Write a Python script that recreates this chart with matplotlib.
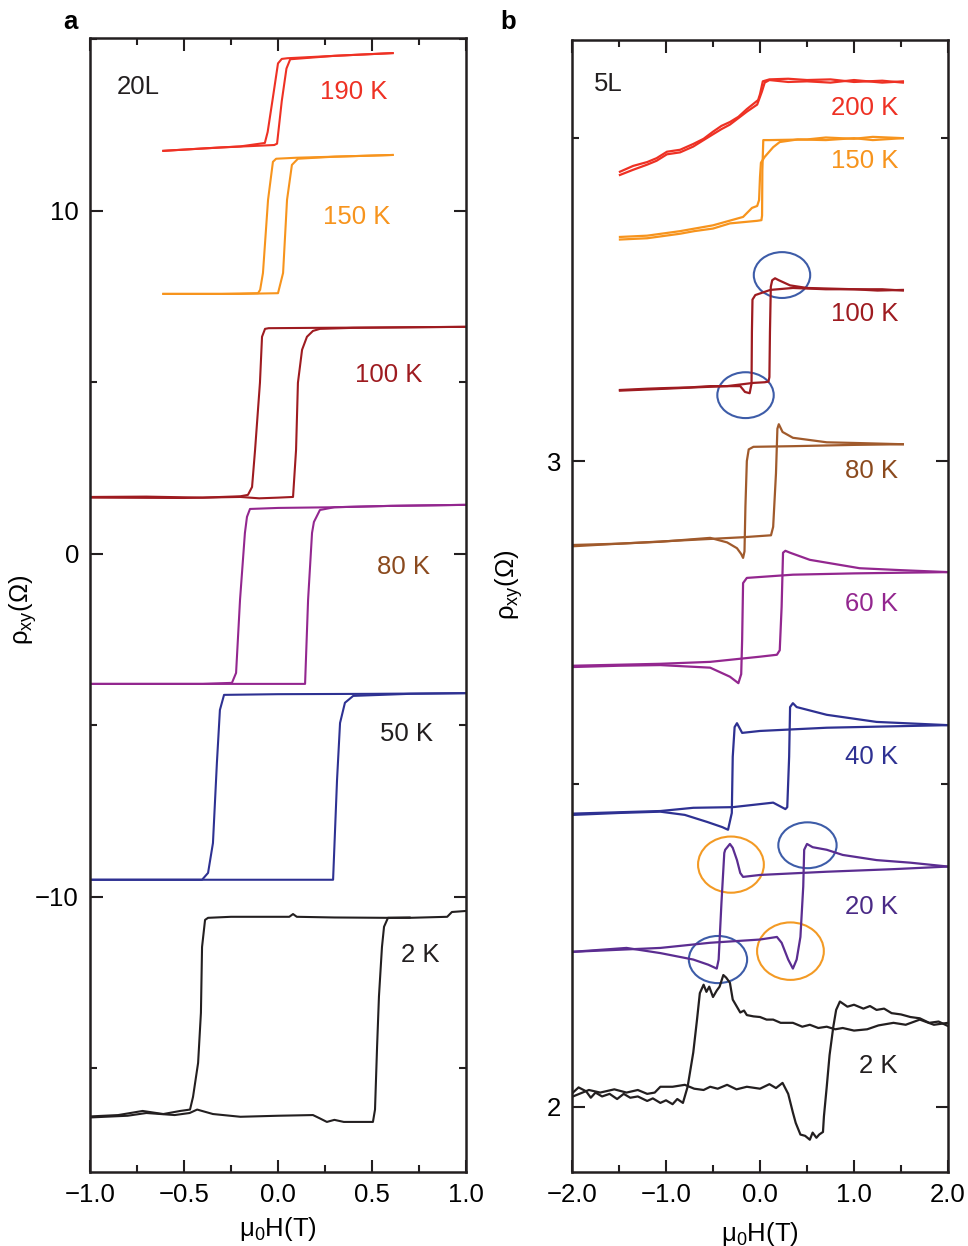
import matplotlib
matplotlib.use('Agg')
import matplotlib.pyplot as plt
from matplotlib.patches import Ellipse
from matplotlib.ticker import MultipleLocator, FuncFormatter

plt.rcParams['font.family'] = ['Liberation Sans', 'DejaVu Sans']
plt.rcParams['font.size'] = 18.5
plt.rcParams['axes.unicode_minus'] = True

# ---- panel a (20L), each loop as two sweep branches of (H, rho) points ----
a190_dn = [(0.61, 14.6), (0.3, 14.52), (0.05, 14.45), (0.02, 14.43), (0.0, 14.3), (-0.03, 13.2),
           (-0.055, 12.3), (-0.07, 11.98), (-0.2, 11.88), (-0.4, 11.82), (-0.61, 11.75)]
a190_up = [(-0.61, 11.75), (-0.3, 11.85), (-0.02, 11.92), (-0.005, 11.96), (0.02, 13.2),
           (0.045, 14.15), (0.065, 14.42), (0.3, 14.52), (0.61, 14.6)]

a150_dn = [(0.61, 11.63), (0.3, 11.58), (0.1, 11.55), (-0.01, 11.52), (-0.027, 11.43), (-0.053, 10.32),
           (-0.08, 8.19), (-0.095, 7.7), (-0.106, 7.6), (-0.3, 7.58), (-0.61, 7.58)]
a150_up = [(-0.61, 7.58), (-0.2, 7.58), (0.0, 7.6), (0.027, 8.19), (0.048, 10.32), (0.074, 11.34),
           (0.106, 11.52), (0.3, 11.58), (0.61, 11.63)]

a100_dn = [(1.0, 6.62), (0.5, 6.6), (0.2, 6.59), (-0.05, 6.58), (-0.069, 6.56), (-0.085, 6.33),
           (-0.096, 4.99), (-0.122, 3.03), (-0.138, 1.95), (-0.16, 1.72), (-0.2, 1.68), (-0.4, 1.64),
           (-0.7, 1.67), (-1.0, 1.66)]
a100_up = [(-1.0, 1.64), (-0.5, 1.63), (-0.2, 1.66), (-0.1, 1.62), (0.0, 1.64), (0.08, 1.66),
           (0.096, 3.03), (0.106, 4.99), (0.128, 5.95), (0.154, 6.33), (0.186, 6.5), (0.223, 6.56),
           (0.4, 6.59), (1.0, 6.62)]

a80_dn = [(1.0, 1.43), (0.6, 1.4), (0.3, 1.36), (0.0, 1.34), (-0.149, 1.31), (-0.165, 1.08),
          (-0.176, 0.61), (-0.202, -1.34), (-0.223, -3.47), (-0.245, -3.76), (-0.4, -3.79), (-1.0, -3.79)]
a80_up = [(-1.0, -3.79), (0.144, -3.79), (0.16, -1.34), (0.181, 0.61), (0.191, 0.93), (0.223, 1.28),
          (0.3, 1.36), (0.6, 1.4), (1.0, 1.43)]

a50_dn = [(1.0, -4.06), (0.5, -4.08), (0.0, -4.09), (-0.287, -4.11), (-0.309, -4.55), (-0.325, -6.09),
          (-0.346, -8.43), (-0.372, -9.3), (-0.404, -9.5), (-1.0, -9.5)]
a50_up = [(-1.0, -9.5), (0.293, -9.5), (0.314, -6.59), (0.33, -4.93), (0.356, -4.34), (0.4, -4.14),
          (0.7, -4.08), (1.0, -4.06)]

a2_dn = [(1.0, -10.41), (0.925, -10.44), (0.9, -10.58), (0.7, -10.61), (0.58, -10.61), (0.3, -10.6),
         (0.1, -10.58), (0.08, -10.5), (0.06, -10.58), (-0.25, -10.58), (-0.372, -10.61), (-0.388, -10.67),
         (-0.404, -11.46), (-0.41, -13.38), (-0.425, -14.84), (-0.452, -15.83), (-0.468, -16.2),
         (-0.52, -16.24), (-0.61, -16.33), (-0.72, -16.24), (-0.85, -16.36), (-1.0, -16.4)]
a2_up = [(-1.0, -16.43), (-0.8, -16.38), (-0.7, -16.3), (-0.55, -16.36), (-0.47, -16.3), (-0.43, -16.2),
         (-0.346, -16.33), (-0.2, -16.41), (0.0, -16.38), (0.186, -16.36), (0.22, -16.45), (0.26, -16.56),
         (0.3, -16.5), (0.35, -16.56), (0.49, -16.56), (0.505, -16.56), (0.516, -16.2), (0.527, -14.37),
         (0.537, -12.9), (0.553, -11.46), (0.564, -10.87), (0.585, -10.61), (0.7, -10.6)]

# ---- panel b (5L) ----
b200_dn = [(1.52, 3.586), (1.3, 3.589), (1.0, 3.587), (0.75, 3.591), (0.5, 3.59), (0.3, 3.592),
           (0.1, 3.591), (0.03, 3.588), (0.0, 3.568), (-0.02, 3.559), (-0.14, 3.545), (-0.23, 3.533),
           (-0.32, 3.525), (-0.41, 3.519), (-0.5, 3.51), (-0.6, 3.499), (-0.71, 3.491), (-0.85, 3.482),
           (-0.99, 3.479), (-1.1, 3.469), (-1.2, 3.463), (-1.35, 3.457), (-1.49, 3.448)]
b200_up = [(-1.49, 3.443), (-1.35, 3.451), (-1.2, 3.459), (-1.1, 3.465), (-0.99, 3.475), (-0.85, 3.478),
           (-0.71, 3.487), (-0.6, 3.497), (-0.5, 3.506), (-0.41, 3.514), (-0.32, 3.521), (-0.23, 3.531),
           (-0.14, 3.541), (-0.03, 3.552), (0.02, 3.572), (0.05, 3.586), (0.1, 3.59), (0.3, 3.587),
           (0.5, 3.588), (0.75, 3.586), (1.0, 3.59), (1.3, 3.586), (1.52, 3.588)]

b150_dn = [(1.52, 3.5), (1.2, 3.502), (1.0, 3.499), (0.7, 3.501), (0.5, 3.498), (0.1, 3.497),
           (0.035, 3.497), (0.025, 3.45), (0.022, 3.38), (0.015, 3.373), (-0.03, 3.372), (-0.32, 3.368),
           (-0.5, 3.36), (-0.7, 3.356), (-0.85, 3.352), (-1.2, 3.345), (-1.49, 3.343)]
b150_up = [(-1.49, 3.347), (-1.2, 3.349), (-0.85, 3.356), (-0.5, 3.365), (-0.18, 3.378), (-0.085, 3.392),
           (-0.03, 3.395), (-0.01, 3.404), (0.0, 3.44), (0.01, 3.462), (0.05, 3.471), (0.14, 3.486),
           (0.21, 3.494), (0.4, 3.498), (0.7, 3.497), (1.0, 3.5), (1.2, 3.497), (1.52, 3.5)]

b100_up = [(-1.49, 3.110), (-1.2, 3.112), (-1.0, 3.113), (-0.75, 3.114), (-0.53, 3.116), (-0.21, 3.116),
           (-0.16, 3.107), (-0.11, 3.105), (-0.09, 3.12), (-0.086, 3.2), (-0.08, 3.25), (-0.05, 3.257),
           (0.11, 3.265), (0.35, 3.268), (0.7, 3.266), (1.0, 3.266), (1.25, 3.264), (1.52, 3.265)]
b100_dn = [(1.52, 3.264), (1.3, 3.266), (1.0, 3.266), (0.75, 3.267), (0.5, 3.268), (0.32, 3.272),
           (0.2, 3.28), (0.16, 3.283), (0.13, 3.28), (0.115, 3.27), (0.106, 3.2), (0.1, 3.13), (0.09, 3.123),
           (0.05, 3.122), (-0.07, 3.121), (-0.35, 3.116), (-0.7, 3.114), (-1.0, 3.112), (-1.49, 3.109)]

b80_up = [(-1.99, 2.870), (-1.5, 2.872), (-1.06, 2.875), (-0.53, 2.881), (-0.35, 2.874), (-0.245, 2.865),
          (-0.2, 2.856), (-0.18, 2.85), (-0.165, 2.86), (-0.155, 2.93), (-0.14, 3.0), (-0.12, 3.018),
          (-0.07, 3.022), (0.35, 3.023), (1.0, 3.025), (1.52, 3.026)]
b80_dn = [(1.52, 3.026), (1.0, 3.028), (0.71, 3.029), (0.35, 3.036), (0.24, 3.045), (0.2, 3.057),
          (0.185, 3.05), (0.17, 2.981), (0.14, 2.898), (0.117, 2.885), (-0.18, 2.882), (-0.71, 2.878),
          (-1.5, 2.872), (-1.99, 2.868)]

b60_up = [(-1.99, 2.681), (-1.5, 2.683), (-1.06, 2.684), (-0.53, 2.680), (-0.32, 2.666), (-0.23, 2.656),
          (-0.2, 2.67), (-0.19, 2.723), (-0.18, 2.811), (-0.14, 2.819), (0.35, 2.824), (1.0, 2.826),
          (2.0, 2.828)]
b60_dn = [(2.0, 2.828), (1.5, 2.831), (1.06, 2.834), (0.53, 2.847), (0.32, 2.858), (0.27, 2.861),
          (0.245, 2.858), (0.23, 2.774), (0.21, 2.707), (0.18, 2.70), (0.0, 2.697), (-0.53, 2.689),
          (-1.06, 2.686), (-1.99, 2.683)]

b40_up = [(-1.99, 2.452), (-1.5, 2.455), (-1.06, 2.457), (-0.8, 2.452), (-0.56, 2.441), (-0.4, 2.433),
          (-0.34, 2.429), (-0.3, 2.455), (-0.29, 2.542), (-0.27, 2.588), (-0.245, 2.594), (-0.19, 2.579),
          (0.0, 2.582), (0.71, 2.587), (2.0, 2.591)]
b40_dn = [(2.0, 2.591), (1.24, 2.596), (0.71, 2.607), (0.39, 2.619), (0.35, 2.625), (0.32, 2.619),
          (0.31, 2.542), (0.29, 2.464), (0.27, 2.461), (0.14, 2.471), (-0.29, 2.464), (-0.71, 2.463),
          (-1.06, 2.458), (-1.99, 2.454)]

b20_up = [(-1.99, 2.240), (-1.42, 2.246), (-1.06, 2.238), (-0.71, 2.228), (-0.55, 2.22), (-0.46, 2.214),
          (-0.44, 2.228), (-0.41, 2.316), (-0.38, 2.393), (-0.37, 2.398), (-0.32, 2.407), (-0.29, 2.401),
          (-0.245, 2.382), (-0.21, 2.362), (-0.18, 2.356), (0.0, 2.359), (0.71, 2.364), (1.42, 2.368),
          (2.0, 2.372)]
b20_dn = [(2.0, 2.372), (1.6, 2.378), (1.24, 2.382), (0.88, 2.390), (0.71, 2.398), (0.56, 2.402),
          (0.5, 2.407), (0.47, 2.398), (0.46, 2.341), (0.43, 2.263), (0.39, 2.228), (0.35, 2.214),
          (0.3, 2.228), (0.23, 2.254), (0.18, 2.263), (0.0, 2.259), (-0.53, 2.254), (-1.06, 2.246),
          (-1.99, 2.240)]

b2_up = [(-1.99, 2.022), (-1.93, 2.03), (-1.85, 2.024), (-1.8, 2.014), (-1.75, 2.022), (-1.68, 2.016),
         (-1.6, 2.02), (-1.52, 2.012), (-1.45, 2.02), (-1.38, 2.014), (-1.3, 2.016), (-1.2, 2.009),
         (-1.14, 2.013), (-1.06, 2.006), (-1.0, 2.01), (-0.93, 2.004), (-0.88, 2.012), (-0.82, 2.006),
         (-0.77, 2.031), (-0.71, 2.084), (-0.67, 2.135), (-0.64, 2.176), (-0.6, 2.189), (-0.57, 2.178),
         (-0.54, 2.186), (-0.5, 2.17), (-0.46, 2.18), (-0.43, 2.186), (-0.39, 2.204), (-0.36, 2.2),
         (-0.32, 2.192), (-0.29, 2.166), (-0.25, 2.156), (-0.21, 2.146), (-0.17, 2.149), (-0.14, 2.142),
         (-0.07, 2.14), (0.0, 2.139), (0.07, 2.135), (0.14, 2.135), (0.22, 2.13), (0.35, 2.13),
         (0.45, 2.124), (0.53, 2.127), (0.62, 2.122), (0.71, 2.124), (0.8, 2.12), (0.88, 2.122),
         (1.0, 2.118), (1.14, 2.12), (1.26, 2.126), (1.42, 2.13), (1.55, 2.127), (1.7, 2.135),
         (1.85, 2.127), (2.0, 2.13)]
b2_dn = [(2.0, 2.125), (1.9, 2.132), (1.8, 2.13), (1.7, 2.137), (1.6, 2.139), (1.5, 2.143), (1.4, 2.145),
         (1.32, 2.152), (1.24, 2.15), (1.17, 2.156), (1.1, 2.152), (1.0, 2.158), (0.93, 2.155),
         (0.85, 2.163), (0.81, 2.15), (0.78, 2.124), (0.74, 2.08), (0.71, 2.031), (0.68, 1.985),
         (0.67, 1.961), (0.63, 1.957), (0.6, 1.952), (0.56, 1.96), (0.53, 1.949), (0.48, 1.955),
         (0.43, 1.957), (0.38, 1.975), (0.35, 1.991), (0.3, 2.02), (0.24, 2.037), (0.17, 2.029),
         (0.1, 2.035), (0.0, 2.028), (-0.14, 2.031), (-0.25, 2.027), (-0.35, 2.034), (-0.45, 2.028),
         (-0.53, 2.031), (-0.6, 2.026), (-0.7, 2.028), (-0.8, 2.034), (-0.93, 2.031), (-1.06, 2.031),
         (-1.12, 2.022), (-1.2, 2.02), (-1.3, 2.026), (-1.42, 2.022), (-1.55, 2.027), (-1.7, 2.022),
         (-1.82, 2.026), (-1.99, 2.016)]

# highlight ellipses in panel b: (center H, center rho, width, height)
blue_marks = [(0.234, 3.288, 0.60, 0.071), (-0.154, 3.102, 0.60, 0.071),
              (0.505, 2.405, 0.62, 0.071), (-0.447, 2.228, 0.62, 0.073)]
orange_marks = [(-0.309, 2.375, 0.70, 0.087), (0.324, 2.241, 0.71, 0.089)]

c_red = '#ee3124'
c_orange = '#f7941d'
c_dred = '#9e1b20'
c_brown = '#a05a2c'
c_brown_lbl = '#8b4a1e'
c_purple = '#93278f'
c_blue = '#2e3192'
c_indigo = '#5b2d91'
c_black = '#231f20'

loops_a = [(a190_dn, a190_up, c_red), (a150_dn, a150_up, c_orange), (a100_dn, a100_up, c_dred),
           (a80_dn, a80_up, c_purple), (a50_dn, a50_up, c_blue), (a2_dn, a2_up, c_black)]
labels_a = [('20L', -0.745, 13.62, c_black), ('190 K', 0.404, 13.47, c_red),
            ('150 K', 0.42, 9.83, c_orange), ('100 K', 0.59, 5.22, c_dred),
            ('80 K', 0.67, -0.38, c_brown_lbl), ('50 K', 0.686, -5.25, c_black),
            ('2 K', 0.755, -11.69, c_black)]

loops_b = [(b200_dn, b200_up, c_red), (b150_dn, b150_up, c_orange), (b100_dn, b100_up, c_dred),
           (b80_dn, b80_up, c_brown), (b60_dn, b60_up, c_purple), (b40_dn, b40_up, c_blue),
           (b20_dn, b20_up, c_indigo), (b2_dn, b2_up, c_black)]
labels_b = [('200 K', 3.547, c_red), ('150 K', 3.464, c_orange), ('100 K', 3.228, c_dred),
            ('80 K', 2.984, c_brown_lbl), ('60 K', 2.778, c_purple), ('40 K', 2.541, c_blue),
            ('20 K', 2.310, '#4a2a86'), ('2 K', 2.063, c_black)]

narrow = ['Liberation Sans Narrow', 'Liberation Sans', 'DejaVu Sans']
xfmt = FuncFormatter(lambda v, pos: ('%.1f' % v).replace('-', '\u2212'))


def draw_loop(ax, dn, up, color, lw):
    for branch in (dn, up):
        ax.plot([p[0] for p in branch], [p[1] for p in branch], color=color, lw=lw,
                solid_joinstyle='round')


def style_axes(ax, ylab_x, ylab_y, xpad):
    for s in ax.spines.values():
        s.set_linewidth(1.8)
        s.set_color(c_black)
    ax.xaxis.set_major_formatter(xfmt)
    ax.tick_params(which='both', direction='in', top=True, right=True, width=1.5, color=c_black)
    ax.tick_params(which='major', length=9, pad=8)
    ax.tick_params(which='minor', length=5)
    for lab in ax.get_xticklabels():
        lab.set_family(narrow)
    ax.set_xlabel('μ$_\\mathregular{0}$H(T)', family=narrow, labelpad=xpad)
    ax.set_ylabel('ρ$_\\mathregular{xy}$(Ω)')
    ax.yaxis.set_label_coords(ylab_x, ylab_y)


fig = plt.figure(figsize=(9.68, 12.46), dpi=100)
ax_a = fig.add_axes([90 / 968, 1 - 1172 / 1246, 376 / 968, 1134 / 1246])
ax_b = fig.add_axes([572 / 968, 1 - 1172 / 1246, 376 / 968, 1132 / 1246])

# panel a
for dn, up, col in loops_a:
    draw_loop(ax_a, dn, up, col, 1.5)
for txt, x, y, col in labels_a:
    ax_a.text(x, y, txt, color=col, ha='center', va='center')
ax_a.set_xlim(-1.0, 1.0)
ax_a.set_ylim(-18.02, 15.04)
ax_a.xaxis.set_major_locator(MultipleLocator(0.5))
ax_a.xaxis.set_minor_locator(MultipleLocator(0.25))
ax_a.yaxis.set_major_locator(MultipleLocator(10))
ax_a.yaxis.set_minor_locator(MultipleLocator(5))
style_axes(ax_a, -0.135, 0.496, 6)

# panel b
for dn, up, col in loops_b:
    draw_loop(ax_b, dn, up, col, 1.6)
for cx, cy, w, h in blue_marks:
    ax_b.add_patch(Ellipse((cx, cy), w, h, fill=False, ec='#3d5ca8', lw=1.5))
for cx, cy, w, h in orange_marks:
    ax_b.add_patch(Ellipse((cx, cy), w, h, fill=False, ec='#f39a24', lw=1.5))
ax_b.text(-1.617, 3.584, '5L', color=c_black, ha='center', va='center')
for txt, y, col in labels_b:
    ax_b.text(1.468, y, txt, color=col, ha='right', va='center')
ax_b.set_xlim(-2.0, 2.0)
ax_b.set_ylim(1.899, 3.652)
ax_b.xaxis.set_major_locator(MultipleLocator(1.0))
ax_b.xaxis.set_minor_locator(MultipleLocator(0.5))
ax_b.yaxis.set_major_locator(MultipleLocator(1))
ax_b.yaxis.set_minor_locator(MultipleLocator(0.5))
style_axes(ax_b, -0.125, 0.519, 9)

fig.text(70 / 968, 1 - 22 / 1246, 'a', weight='bold', ha='center', va='center')
fig.text(508 / 968, 1 - 22 / 1246, 'b', weight='bold', ha='center', va='center')

fig.savefig('out.png', dpi=100)
